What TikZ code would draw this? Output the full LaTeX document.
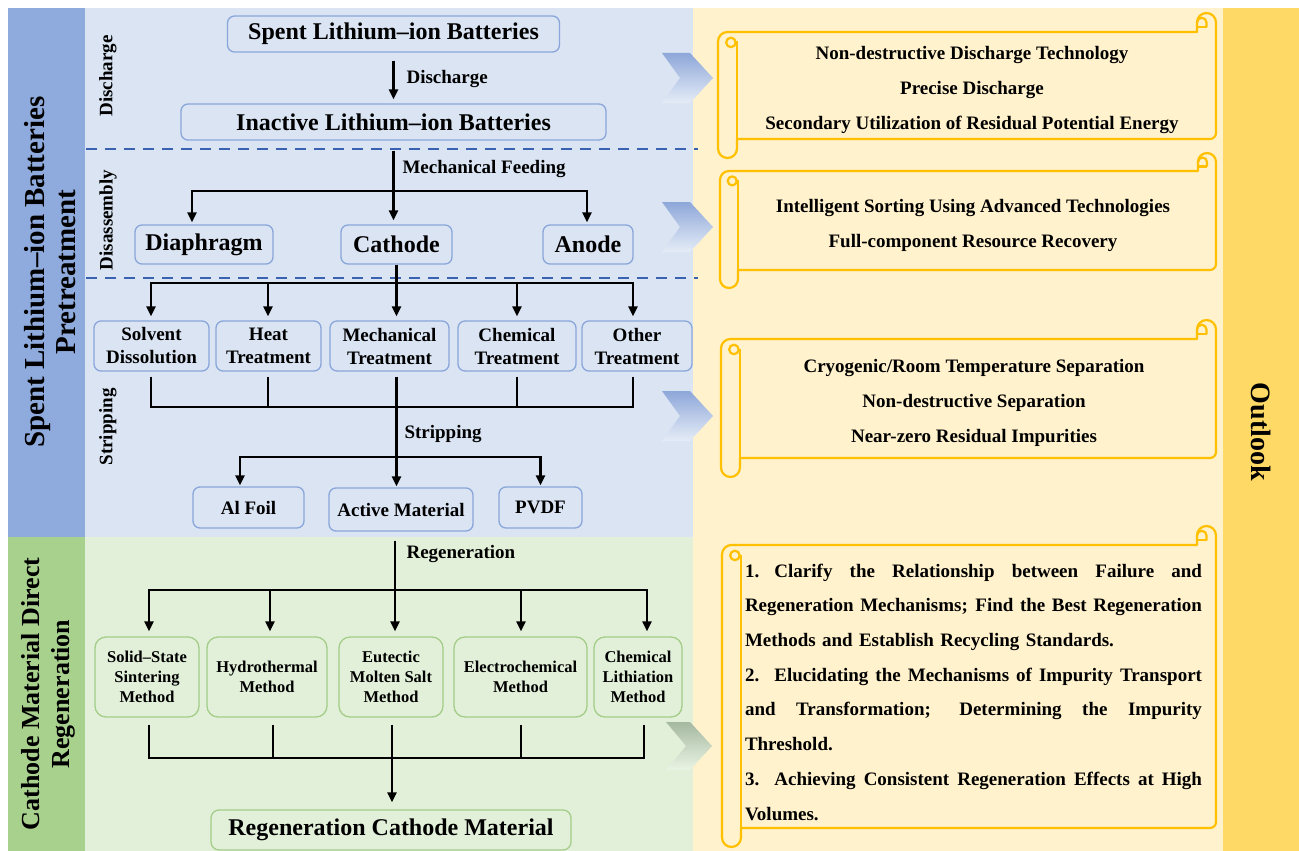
\documentclass[tikz,border=0pt]{standalone}
\usepackage{fontspec}
\setmainfont{Liberation Serif}
\usetikzlibrary{arrows.meta,calc}
\definecolor{bandblue}{HTML}{8FAADC}
\definecolor{panelblue}{HTML}{DAE4F3}
\definecolor{boxblue}{HTML}{8AA6DA}
\definecolor{bandgreen}{HTML}{A9D18E}
\definecolor{panelgreen}{HTML}{E2F0D9}
\definecolor{boxgreen}{HTML}{A3CD88}
\definecolor{panelyellow}{HTML}{FFF2CC}
\definecolor{bandyellow}{HTML}{FFD966}
\definecolor{scrollc}{HTML}{FFC000}
\definecolor{dashc}{HTML}{3A62B0}
\definecolor{chevblue}{HTML}{8EA7D9}
\definecolor{chevgreen}{HTML}{A5B8A0}
\newcommand\jline[1]{\leavevmode\hbox to 457pt{\spaceskip=0.25em plus 1fil\relax #1}}
\newcommand\myscroll[5]{%
  \pgfmathsetmacro\sL{#1}\pgfmathsetmacro\sT{#2}\pgfmathsetmacro\sR{#3}\pgfmathsetmacro\sB{#4}%
  \pgfmathsetmacro\sW{#5}\pgfmathsetmacro\sH{#5/2}\pgfmathsetmacro\sQ{#5/4}%
  \pgfmathsetmacro\bT{#2+#5}\pgfmathsetmacro\bB{#4-#5}%
  \draw[scr,fill=panelyellow] (\sL,{\sB-\sH}) -- (\sL,{\bT+\sH})
    arc[start angle=180,end angle=270,radius=\sH] -- ({\sR-\sW},\bT)
    -- ({\sR-\sW},{\sT+\sH}) arc[start angle=180,end angle=360,radius=\sH]
    -- (\sR,{\bB-6}) arc[start angle=0,end angle=90,radius=6]
    -- ({\sL+\sW},\bB) -- ({\sL+\sW},{\sB-\sH})
    arc[start angle=0,end angle=180,radius=\sH] -- cycle;
  \draw[scr] ({\sL+\sW},{\bT+\sH}) -- ({\sL+\sW},\bB);
  \draw[scr] ({\sL+0.68*\sW},{\bT+0.55*\sW}) circle[radius=\sQ];
  \draw[scr] ({\sR-\sH},{\bT-\sQ}) -- ({\sR-\sH},{\sT+\sH})
    arc[start angle=0,end angle=-180,radius=\sQ];
  \draw[scr] ({\sR-\sW},{\bT-\sQ}) -- ({\sR-\sH},{\bT-\sQ});
}
\begin{document}
\begin{tikzpicture}[x=1pt,y=-1pt,
  scr/.style={draw=scrollc,line width=2.2pt,line join=round},
  bbox/.style={draw=boxblue,line width=1.3pt,rounded corners=7pt,fill=panelblue,inner sep=0pt,align=center},
  gbox/.style={draw=boxgreen,line width=1.3pt,rounded corners=11pt,fill=panelgreen,inner sep=0pt,align=center},
  con/.style={line width=2.6pt},
  arr/.style={con,-{Triangle[length=10pt,width=9pt]}},
  fbig/.style={font=\fontsize{24}{28}\selectfont\bfseries},
  fmid/.style={font=\fontsize{19}{23}\selectfont\bfseries},
  fsml/.style={font=\fontsize{16.5}{20}\selectfont\bfseries},
  fscr/.style={font=\fontsize{19}{35}\selectfont\bfseries,align=center},
  chevron/.style={shading angle=-45}
]
\useasboundingbox (0,0) rectangle (1299,851);
% ---------- panels ----------
\fill[white] (0,0) rectangle (1299,851);
\fill[bandblue] (8,8) rectangle (85,537);
\fill[panelblue] (85,8) rectangle (693,537);
\fill[bandgreen] (8,537) rectangle (85,851);
\fill[panelgreen] (85,537) rectangle (693,851);
\fill[panelyellow] (693,8) rectangle (1223,851);
\fill[bandyellow] (1223,8) rectangle (1299,851);
% dashed separators
\draw[dashc,line width=1.8pt,dash pattern=on 11pt off 8pt] (86,149) -- (698,149);
\draw[dashc,line width=1.8pt,dash pattern=on 11pt off 8pt] (86,278) -- (698,278);
% ---------- side labels ----------
\node[font=\fontsize{29}{31}\selectfont\bfseries,rotate=90,align=center] (lblA) at (50,272) {Spent Lithium–ion Batteries\\Pretreatment};
\node[font=\fontsize{26}{30}\selectfont\bfseries,rotate=90,align=center] (lblB) at (48,694) {Cathode Material Direct\\Regeneration};
\node[font=\fontsize{28}{30}\selectfont\bfseries,rotate=-90] (lblC) at (1261,432) {Outlook};
\node[fmid,rotate=90] (stgA) at (108,76) {Discharge};
\node[fmid,rotate=90] (stgB) at (108,220) {Disassembly};
\node[fmid,rotate=90] (stgC) at (108,427) {Stripping};
% ---------- boxes ----------
\node[bbox,fbig,minimum width=332pt,minimum height=36pt] (spent) at (393.5,34) {Spent Lithium–ion Batteries};
\node[bbox,fbig,minimum width=425pt,minimum height=36pt] (inactive) at (393.5,122) {Inactive Lithium–ion Batteries};
\node[bbox,fbig,minimum width=138pt,minimum height=39pt] (diaph) at (204,244.5) {Diaphragm};
\node[bbox,fbig,minimum width=111pt,minimum height=39pt] (cathode) at (396.5,244.5) {Cathode};
\node[bbox,fbig,minimum width=90pt,minimum height=39pt] (anode) at (588,244.5) {Anode};
\node[bbox,fmid,minimum width=115pt,minimum height=50pt] (solvent) at (151.5,346) {Solvent\\Dissolution};
\node[bbox,fmid,minimum width=105pt,minimum height=50pt] (heat) at (268.5,346) {Heat\\Treatment};
\node[bbox,fmid,minimum width=119pt,minimum height=50pt] (mech) at (389.5,346) {Mechanical\\Treatment};
\node[bbox,fmid,minimum width=118pt,minimum height=50pt] (chem) at (517,346) {Chemical\\Treatment};
\node[bbox,fmid,minimum width=110pt,minimum height=50pt] (other) at (637,346) {Other\\Treatment};
\node[bbox,fmid,minimum width=111pt,minimum height=41pt] (alfoil) at (248.5,507.5) {Al Foil};
\node[bbox,fmid,minimum width=144pt,minimum height=43pt] (active) at (401,509.5) {Active Material};
\node[bbox,fmid,minimum width=83pt,minimum height=41pt] (pvdf) at (540.5,507.5) {PVDF};
\node[gbox,fsml,minimum width=104pt,minimum height=80pt] (solid) at (147,677) {Solid–State\\Sintering\\Method};
\node[gbox,fsml,minimum width=120pt,minimum height=80pt] (hydro) at (267,677) {Hydrothermal\\Method};
\node[gbox,fsml,minimum width=104pt,minimum height=80pt] (eutec) at (391,677) {Eutectic\\Molten Salt\\Method};
\node[gbox,fsml,minimum width=133pt,minimum height=80pt] (electro) at (520.5,677) {Electrochemical\\Method};
\node[gbox,fsml,minimum width=88pt,minimum height=80pt] (chemli) at (638,677) {Chemical\\Lithiation\\Method};
\node[gbox,fbig,rounded corners=8pt,minimum width=360pt,minimum height=40pt] (regen) at (391,830) {Regeneration Cathode Material};
% ---------- connectors ----------
\draw[arr,shorten <=8pt,shorten >=4pt] (spent.south) -- (inactive.north);
\node[fmid,anchor=west] (lbDis) at (403,79) {Discharge};
% mechanical feeding
\coordinate (mf) at (393.5,191);
\draw[con,shorten <=10pt] (inactive.south) -- (mf);
\draw[arr,shorten >=2pt] (mf) -| ([xshift=-12pt]diaph.north);
\draw[arr,shorten >=4pt] (mf) -- (mf |- cathode.north);
\draw[arr,shorten >=2pt] (mf) -| ([xshift=-1pt]anode.north);
\node[fmid,anchor=west] (lbMF) at (399,169) {Mechanical Feeding};
% stripping treatments
\coordinate (cb) at (396.5,283);
\draw[con] (cathode.south) -- (cb);
\draw[arr,shorten >=4pt] (cb) -| ([xshift=-0.5pt]solvent.north);
\draw[arr,shorten >=4pt] (cb) -| ([xshift=-0.5pt]heat.north);
\draw[arr,shorten >=4pt] (cb) -- (cb |- mech.north);
\draw[arr,shorten >=4pt] (cb) -| (chem.north);
\draw[arr,shorten >=4pt] (cb) -| ([xshift=-4pt]other.north);
\coordinate (sb) at (396.5,407);
\draw[con] ([xshift=-0.5pt,yshift=-5pt]solvent.south) |- (sb);
\draw[con] ([xshift=-0.5pt,yshift=-5pt]heat.south) |- (sb);
\draw[con] ([yshift=-5pt]chem.south) |- (sb);
\draw[con] ([xshift=-4pt,yshift=-5pt]other.south) |- (sb);
\draw[con,shorten <=5pt] (mech.south -| sb) -- (sb);
\coordinate (sj) at (396.5,457);
\draw[con] (sb) -- (sj);
\draw[arr,shorten >=1pt] (sj) -| ([xshift=-8.5pt]alfoil.north);
\draw[arr,shorten >=1pt] (sj) -- (sj |- active.north);
\draw[arr,shorten >=1pt] (sj) -| (pvdf.north);
\node[fmid,anchor=west] (lbStr) at (401,434) {Stripping};
% regeneration
\coordinate (rj) at (395,590);
\draw[con,shorten <=9pt] (active.south -| rj) -- (rj);
\node[fmid,anchor=west] (lbReg) at (403,554) {Regeneration};
\draw[arr,shorten >=5pt] (rj) -| ([xshift=2pt]solid.north);
\draw[arr,shorten >=5pt] (rj) -| ([xshift=3pt]hydro.north);
\draw[arr,shorten >=5pt] (rj) -- (rj |- eutec.north);
\draw[arr,shorten >=5pt] (rj) -| ([xshift=0.5pt]electro.north);
\draw[arr,shorten >=5pt] (rj) -| ([xshift=9pt]chemli.north);
\coordinate (gj) at (392,758);
\draw[con] ([xshift=2pt,yshift=-7pt]solid.south) |- (gj);
\draw[con] ([xshift=6pt,yshift=-7pt]hydro.south) |- (gj);
\draw[con] ([xshift=0.5pt,yshift=-7pt]electro.south) |- (gj);
\draw[con] ([xshift=6pt,yshift=-7pt]chemli.south) |- (gj);
\draw[con,shorten <=7pt] (eutec.south -| gj) -- (gj);
\draw[arr,shorten >=7pt] (gj) -- (gj |- regen.north);
% ---------- chevrons ----------
\shade[chevron,top color=chevblue,bottom color=panelblue!70!white] (662,53) -- (690,53) -- (713,78) -- (690,103) -- (662,103) -- (680,78) -- cycle;
\shade[chevron,top color=chevblue,bottom color=panelblue!70!white] (662,202) -- (690,202) -- (713,227) -- (690,252) -- (662,252) -- (680,227) -- cycle;
\shade[chevron,top color=chevblue,bottom color=panelblue!70!white] (662,391) -- (690,391) -- (713,416) -- (690,441) -- (662,441) -- (680,416) -- cycle;
\shade[chevron,top color=chevgreen,bottom color=panelgreen!70!white] (666,722) -- (690,722) -- (712,746) -- (690,770) -- (666,770) -- (686,746) -- cycle;
% ---------- scrolls ----------
\myscroll{718}{13}{1216}{158}{19}
\myscroll{720}{153}{1216}{288}{18}
\myscroll{721}{320}{1216}{477}{19}
\myscroll{722}{526}{1216}{847}{19}
\node[fscr] (o1) at (972,90) {Non-destructive Discharge Technology\\Precise Discharge\\Secondary Utilization of Residual Potential Energy};
\node[fscr] (o2) at (973,225.5) {Intelligent Sorting Using Advanced Technologies\\Full-component Resource Recovery};
\node[fscr] (o3) at (974,403) {Cryogenic/Room Temperature Separation\\Non-destructive Separation\\Near-zero Residual Impurities};
\node[font=\fontsize{19}{34.7}\selectfont\bfseries,text width=457pt,align=left,inner sep=0pt] (o4) at (973.5,692) {%
\jline{1.\hspace{0.3em} Clarify the Relationship between Failure and}\\
\jline{Regeneration Mechanisms; Find the Best Regeneration}\\
Methods and Establish Recycling Standards.\\
\jline{2.\hspace{0.3em} Elucidating the Mechanisms of Impurity Transport}\\
\jline{and Transformation; Determining the Impurity}\\
Threshold.\\
\jline{3.\hspace{0.3em} Achieving Consistent Regeneration Effects at High}\\
Volumes.};
\end{tikzpicture}
\end{document}
